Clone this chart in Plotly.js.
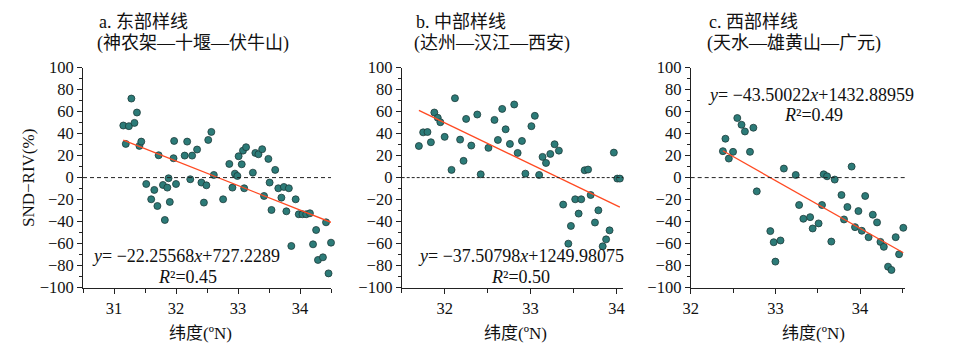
<!DOCTYPE html>
<html><head><meta charset="utf-8">
<script src="https://cdn.plot.ly/plotly-3.0.1.min.js"></script>
<style>html,body{margin:0;padding:0;background:#fff}</style>
</head><body><div id="chart" style="width:961px;height:357px"></div>
<script>
// ---- data ----
const latA = [31.15,31.19,31.24,31.28,31.33,31.37,31.41,31.44,31.52,31.60,31.65,31.70,31.72,31.79,31.82,31.86,31.88,31.90,31.96,31.97,32.00,32.14,32.18,32.23,32.26,32.34,32.41,32.45,32.49,32.52,32.57,32.61,32.76,32.86,32.91,32.95,32.99,33.01,33.06,33.08,33.10,33.13,33.24,33.28,33.33,33.39,33.42,33.49,33.51,33.54,33.60,33.65,33.70,33.74,33.78,33.82,33.86,33.93,33.98,34.04,34.10,34.16,34.21,34.26,34.29,34.37,34.42,34.46,34.50];
const valA = [47.3,30.6,46.7,71.8,49.7,59.1,28.8,32.7,-5.8,-19.7,-11.2,-25.8,20.3,-6.7,-38.5,-9.1,-0.6,-22.1,17.6,33.3,-5.8,20.0,32.7,-1.5,20.0,25.5,-4.5,-22.7,-7.0,34.2,41.5,2.4,-19.7,12.4,-9.1,3.6,1.5,19.4,12.1,24.5,-9.7,27.6,4.5,22.4,21.2,25.8,-16.7,17.0,-4.5,-29.4,7.0,-9.7,-18.2,-8.5,-30.6,-9.7,-62.1,-19.7,-33.3,-33.3,-33.3,-32.4,-60.6,-47.6,-74.8,-72.4,-40.6,-87.0,-59.1];

const latB = [31.70,31.75,31.80,31.84,31.88,31.92,31.95,32.00,32.08,32.12,32.18,32.22,32.25,32.31,32.38,32.42,32.51,32.58,32.62,32.67,32.71,32.76,32.81,32.85,32.90,32.94,33.01,33.05,33.10,33.14,33.18,33.23,33.28,33.33,33.38,33.44,33.47,33.52,33.56,33.59,33.63,33.67,33.70,33.75,33.79,33.84,33.88,33.92,33.97,34.01,34.04];
const valB = [28.7,41.1,41.4,32.1,59.1,54.3,50.3,37.0,7.0,72.1,34.5,15.2,53.3,29.1,57.3,3.0,27.0,52.4,34.2,62.4,43.9,30.6,66.4,22.4,33.3,3.6,46.7,56.1,2.4,18.8,13.3,21.5,30.3,24.5,-24.5,-60.0,-43.9,-19.7,-32.7,-19.7,6.7,7.3,-15.8,-40.8,-29.7,-62.4,-56.1,-47.9,22.7,-0.9,-0.9];

const latC = [32.38,32.41,32.45,32.50,32.55,32.60,32.64,32.70,32.74,32.78,32.94,32.98,33.00,33.06,33.10,33.24,33.28,33.33,33.41,33.44,33.51,33.55,33.57,33.61,33.66,33.70,33.78,33.81,33.85,33.90,33.94,33.98,34.02,34.06,34.10,34.15,34.20,34.24,34.28,34.33,34.37,34.42,34.46,34.51];
const valC = [24.0,35.3,17.3,23.4,54.1,48.0,41.9,23.4,45.3,-12.5,-48.6,-58.7,-76.3,-57.1,8.2,2.4,-24.9,-37.4,-35.9,-46.2,-41.6,-24.9,3.0,1.2,-58.1,-1.8,-15.8,-38.0,-26.7,10.0,-45.0,-30.4,-48.3,-16.7,-54.1,-33.7,-40.7,-58.4,-62.9,-80.9,-83.9,-54.1,-69.6,-45.6];

const slopes = [-22.25568, -37.50798, -43.50022];
const intercepts = [727.2289, 1249.98075, 1432.88959];
const r2 = ["0.45", "0.50", "0.49"];
const slopeText = ["−22.25568", "−37.50798", "−43.50022"];
const interceptText = ["727.2289", "1249.98075", "1432.88959"];
const titles1 = ["a. 东部样线", "b. 中部样线", "c. 西部样线"];
const titles2 = ["(神农架—十堰—伏牛山)", "(达州—汉江—西安)", "(天水—雄黄山—广元)"];
const xTitle = "纬度(ºN)";
const yTitle = "SND−RIV(%)";
const xRanges = [[30.5, 34.5], [31.5, 34.08], [32, 34.53]];
const yRange = [-100, 100];

// ---- layout helpers (pixel geometry) ----
const W = 961, H = 357;
const px = v => v / W;
const py = v => 1 - v / H;
const FONT = "'Liberation Serif', 'Times New Roman', serif";
const CJK = "'Liberation Serif', 'Noto Sans CJK SC', serif";
const domainsPx = [[83, 331], [401.7, 623.3], [690.7, 905]];
const yDomPx = [287.7, 67.5];

const lats = [latA, latB, latC], vals = [valA, valB, valC];
const traces = [];
const layout = {
  width: W, height: H,
  margin: {l: 0, r: 0, t: 0, b: 0},
  paper_bgcolor: '#fff', plot_bgcolor: 'rgba(0,0,0,0)',
  showlegend: false,
  font: {family: FONT, size: 16, color: '#111'},
  shapes: [], annotations: []
};

for (let i = 0; i < 3; i++) {
  const sfx = i === 0 ? '' : String(i + 1);
  const xa = 'x' + sfx, ya = 'y' + sfx;
  layout['xaxis' + sfx] = {
    domain: [px(domainsPx[i][0]), px(domainsPx[i][1])], range: xRanges[i], anchor: ya,
    showline: true, linecolor: '#222', linewidth: 1, showgrid: false, zeroline: false,
    ticks: 'outside', ticklen: 5, tickwidth: 1, tickcolor: '#222', dtick: 1, tick0: 0,
    tickfont: {family: FONT, size: 16.5, color: '#111'},
    minor: {dtick: 0.5, ticks: 'outside', ticklen: 4, tickcolor: '#222', showgrid: false}
  };
  layout['yaxis' + sfx] = {
    domain: [py(yDomPx[0]), py(yDomPx[1])], range: yRange, anchor: xa,
    showline: true, linecolor: '#222', linewidth: 1, showgrid: false, zeroline: false,
    ticks: 'outside', ticklen: 5, tickwidth: 1, tickcolor: '#222', dtick: 20, tick0: 0,
    tickfont: {family: FONT, size: 16.5, color: '#111'},
    minor: {dtick: 10, ticks: 'outside', ticklen: 3, tickcolor: '#222', showgrid: false}
  };
  layout.shapes.push({type: 'line', xref: xa + ' domain', yref: ya, x0: 0, x1: 1, y0: 0, y1: 0,
    line: {color: '#222', width: 1, dash: i === 1 ? '3px,2px' : '4px,3px'}});
  traces.push({type: 'scatter', mode: 'markers', x: lats[i], y: vals[i], xaxis: xa, yaxis: ya,
    cliponaxis: false,
    marker: {size: 7, color: '#2c7b78', line: {color: '#1d3b3a', width: 0.8}}});
  const xmin = Math.min(...lats[i]), xmax = Math.max(...lats[i]);
  traces.push({type: 'scatter', mode: 'lines', x: [xmin, xmax],
    y: [slopes[i] * xmin + intercepts[i], slopes[i] * xmax + intercepts[i]],
    xaxis: xa, yaxis: ya, cliponaxis: false, line: {color: '#ff4a22', width: 1.3}});
}

const titleX = [95, 412, 705];
const eqPos = [[90, 256], [416, 256], [706, 95]];
const r2Pos = [[187, 277], [520, 277], [813, 115]];
const xTitlePos = [200, 515, 813];
for (let i = 0; i < 3; i++) {
  layout.annotations.push({text: titles1[i], xref: 'paper', yref: 'paper', x: px(titleX[i] + 2), y: py(22),
    xanchor: 'left', yanchor: 'middle', showarrow: false, font: {family: CJK, size: 18, color: '#111'}});
  layout.annotations.push({text: titles2[i], xref: 'paper', yref: 'paper', x: px(titleX[i]), y: py(43),
    xanchor: 'left', yanchor: 'middle', showarrow: false, font: {family: CJK, size: 18, color: '#111'}});
  layout.annotations.push({text: '<i>y</i>= ' + slopeText[i] + '<i>x</i>+' + interceptText[i],
    xref: 'paper', yref: 'paper', x: px(eqPos[i][0]), y: py(eqPos[i][1]),
    xanchor: 'left', yanchor: 'middle', showarrow: false, font: {family: FONT, size: 18, color: '#111'}});
  layout.annotations.push({text: '<i>R</i>²=' + r2[i],
    xref: 'paper', yref: 'paper', x: px(r2Pos[i][0]), y: py(r2Pos[i][1]),
    xanchor: 'center', yanchor: 'middle', showarrow: false, font: {family: FONT, size: 18, color: '#111'}});
  layout.annotations.push({text: xTitle, xref: 'paper', yref: 'paper', x: px(xTitlePos[i]), y: py(333),
    xanchor: 'center', yanchor: 'middle', showarrow: false, font: {family: CJK, size: 17, color: '#111'}});
}
layout.annotations.push({text: yTitle, xref: 'paper', yref: 'paper', x: px(28), y: py(178),
  xanchor: 'center', yanchor: 'middle', textangle: -90, showarrow: false,
  font: {family: FONT, size: 17, color: '#111'}});

Plotly.newPlot('chart', traces, layout, {displayModeBar: false, staticPlot: true});
</script></body></html>
